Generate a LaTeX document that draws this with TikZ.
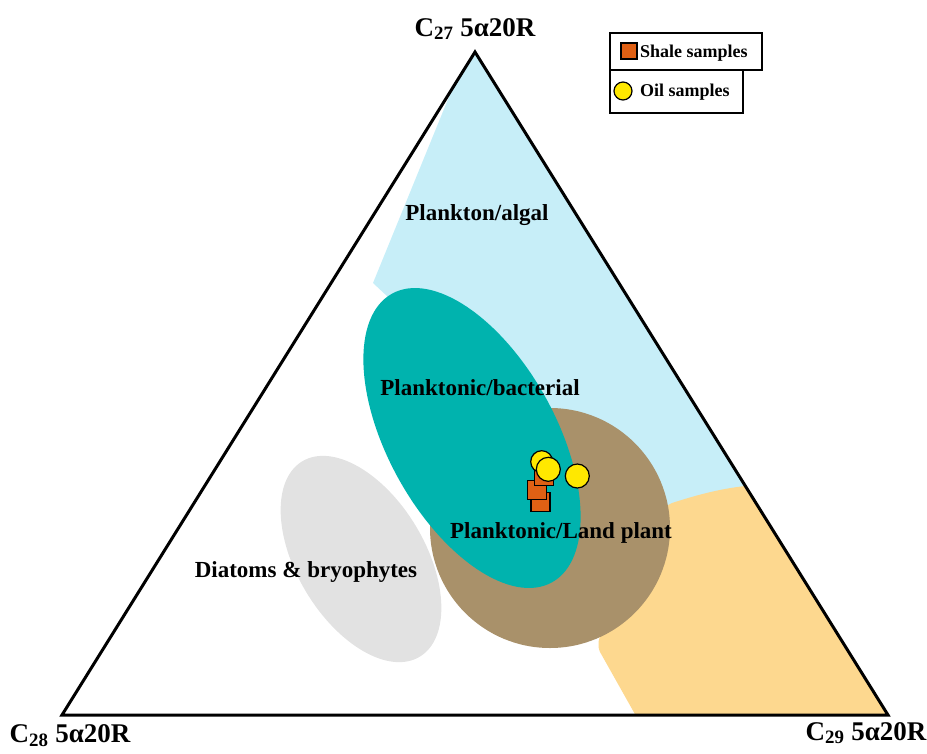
\documentclass[tikz,border=0pt]{standalone}
\usepackage{fontspec}
\setmainfont{Liberation Serif}
\definecolor{algal}{RGB}{199,238,248}
\definecolor{bact}{RGB}{0,179,174}
\definecolor{land}{RGB}{169,145,106}
\definecolor{terr}{RGB}{253,216,143}
\definecolor{diat}{RGB}{226,226,226}
\definecolor{oilc}{RGB}{255,232,0}
\definecolor{shalec}{RGB}{224,96,20}
\tikzset{
  vlabel/.style={font=\fontsize{27}{27}\selectfont\bfseries, anchor=base, inner sep=0pt},
  rlabel/.style={font=\fontsize{23}{23}\selectfont\bfseries, anchor=base, inner sep=0pt},
  leglabel/.style={font=\fontsize{18}{18}\selectfont\bfseries, anchor=base west, inner sep=0pt},
  oil/.style={draw=black, line width=1.2pt, fill=oilc, circle, inner sep=0pt},
  shale/.style={draw=black, line width=1.2pt, fill=shalec, rectangle, inner sep=0pt},
  legbox/.style={draw=black, line width=1.2pt, fill=white},
}
\begin{document}
\begin{tikzpicture}[x=1pt,y=-1pt]
\useasboundingbox (0,0) rectangle (927,753);
\coordinate (T) at (475,52);
\coordinate (L) at (62,715);
\coordinate (R) at (888,715);
\begin{scope}
\clip (T) -- (L) -- (R) -- cycle;
\fill[algal] (475,52) -- (767,520) -- (640,540) -- (520,470) -- (420,330) -- (388,297) -- (373,283) -- (453,87) -- cycle;
\fill[terr] (672,503) .. controls (700,494) and (720,489) .. (745,486) -- (890,716) -- (636,716) -- (600,652) .. controls (597,645) and (598,638) .. (604,630) -- (592,610) -- (640,520) -- cycle;
\end{scope}
\fill[land] (550,528) circle[radius=120];
\fill[bact, rotate around={-61:(472,438)}] (472,438) ellipse[x radius=165, y radius=84];
\fill[diat, rotate around={-59:(361,559)}] (361,559) ellipse[x radius=114, y radius=64];
\draw[line width=3pt, line join=miter] (T) -- (L) -- (R) -- cycle;

\node[vlabel] (lt) at (475,36) {C\textsubscript{27} 5α20R};
\node[vlabel] (ll) at (70,742) {C\textsubscript{28} 5α20R};
\node[vlabel] (lr) at (866,740) {C\textsubscript{29} 5α20R};

\node[rlabel] (alg) at (477,220) {Plankton/algal};
\node[rlabel] (bac) at (480,395) {Planktonic/bacterial};
\node[rlabel] (lp) at (561,538) {Planktonic/Land plant};
\node[rlabel] (dia) at (306,577) {Diatoms \& bryophytes};

\node[shale, minimum size=19pt] (s3) at (540.5,502) {};
\node[shale, minimum size=19pt] (s2) at (537,490) {};
\node[shale, minimum size=19pt] (s1) at (544,476) {};
\node[oil, minimum size=22pt] (o1) at (541.7,461.7) {};
\node[oil, minimum size=24pt] (o2) at (548.3,469.3) {};
\node[oil, minimum size=24pt] (o3) at (577.3,476) {};

\draw[legbox] (610,70) rectangle (743,113);
\draw[legbox] (610,33) rectangle (762,70);
\node[shale, minimum size=16pt] (ls) at (629,51) {};
\node[leglabel] (lst) at (640,57.5) {Shale samples};
\node[oil, minimum size=18pt] (lo) at (623,91) {};
\node[leglabel] (lot) at (640,96) {Oil samples};
\end{tikzpicture}
\end{document}
